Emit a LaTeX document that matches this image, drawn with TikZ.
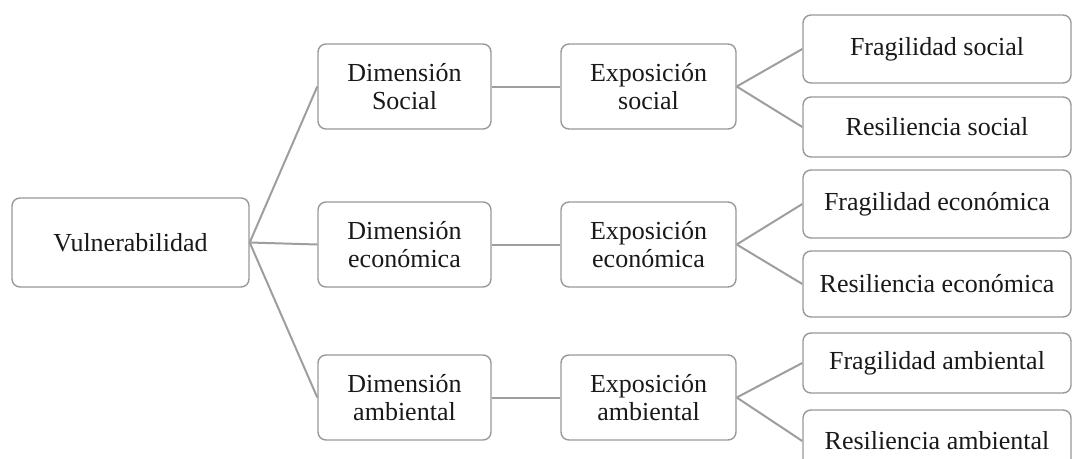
\documentclass[tikz,border=0pt]{standalone}
\usepackage{fontspec}
\setmainfont{Liberation Serif}
\begin{document}
\begin{tikzpicture}[x=1pt,y=-1pt,
  box/.style={draw=black!40, line width=1.4pt, rounded corners=8pt, fill=white,
    inner sep=0pt, align=center, text=black!90,
    font=\fontsize{26}{28}\selectfont},
  conn/.style={draw=black!38, line width=2pt}]
\useasboundingbox (0,0) rectangle (1073,458);
\node[box, minimum width=237pt, minimum height=89pt] (V) at (130.5,242.5) {Vulnerabilidad};
\node[box, minimum width=173pt, minimum height=85pt] (DS) at (404.5,86.5) {Dimensión\\Social};
\node[box, minimum width=175pt, minimum height=85pt] (ES) at (648.5,86.5) {Exposición\\social};
\node[box, minimum width=173pt, minimum height=85pt] (DE) at (404.5,244.5) {Dimensión\\económica};
\node[box, minimum width=175pt, minimum height=85pt] (EE) at (648.5,244.5) {Exposición\\económica};
\node[box, minimum width=173pt, minimum height=85pt] (DA) at (404.5,397.5) {Dimensión\\ambiental};
\node[box, minimum width=175pt, minimum height=85pt] (EA) at (648.5,397.5) {Exposición\\ambiental};
\node[box, minimum width=268pt, minimum height=68pt] (FS) at (937,49) {Fragilidad social};
\node[box, minimum width=268pt, minimum height=60pt] (RS) at (937,127) {Resiliencia social};
\node[box, minimum width=268pt, minimum height=68pt] (FE) at (937,204) {Fragilidad económica};
\node[box, minimum width=268pt, minimum height=66pt] (RE) at (937,284) {Resiliencia económica};
\node[box, minimum width=268pt, minimum height=60pt] (FA) at (937,363) {Fragilidad ambiental};
\node[box, minimum width=268pt, minimum height=62pt] (RA) at (937,441) {Resiliencia ambiental};
\begin{scope}[on background layer/.try]
\end{scope}
\draw[conn] (V.east) -- (DS.west);
\draw[conn] (V.east) -- (DE.west);
\draw[conn] (V.east) -- (DA.west);
\draw[conn] (DS.east) -- (ES.west);
\draw[conn] (DE.east) -- (EE.west);
\draw[conn] (DA.east) -- (EA.west);
\draw[conn] (ES.east) -- (FS.west);
\draw[conn] (ES.east) -- (RS.west);
\draw[conn] (EE.east) -- (FE.west);
\draw[conn] (EE.east) -- (RE.west);
\draw[conn] (EA.east) -- (FA.west);
\draw[conn] (EA.east) -- (RA.west);
\end{tikzpicture}
\end{document}
